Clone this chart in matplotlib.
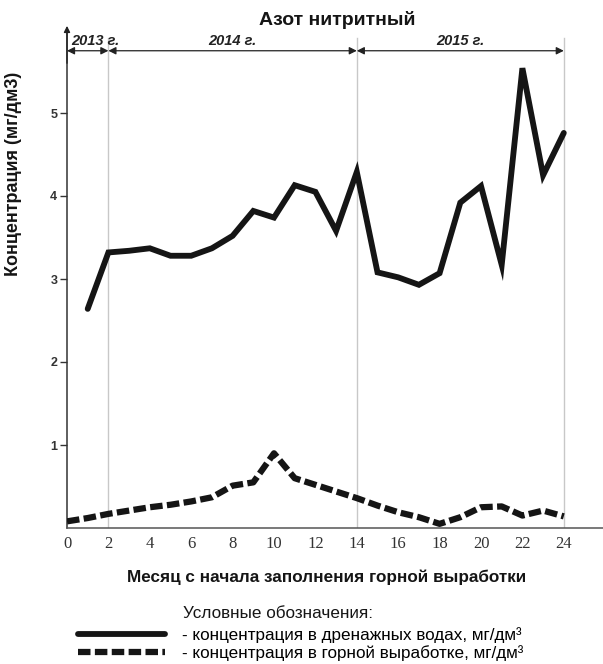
import numpy as np
import matplotlib.pyplot as plt

# месяцы и концентрации (мг/дм3)
months_drain = np.arange(1, 25)
drain = [2.64, 3.32, 3.34, 3.37, 3.28, 3.28, 3.37, 3.52, 3.82, 3.74,
         4.13, 4.05, 3.58, 4.29, 3.08, 3.02, 2.93, 3.07, 3.92, 4.12,
         3.17, 5.54, 4.25, 4.76]

months_mine = np.arange(0, 25)
mine = [0.08, 0.12, 0.17, 0.21, 0.25, 0.28, 0.32, 0.37, 0.51, 0.55,
        0.90, 0.60, 0.52, 0.44, 0.36, 0.27, 0.19, 0.13, 0.05, 0.13,
        0.25, 0.26, 0.15, 0.21, 0.14]

years = ['2013 г.', '2014 г.', '2015 г.']
year_bounds = [0, 2, 14, 24]

xticks = np.arange(0, 25, 2)
yticks = [1, 2, 3, 4, 5]

plt.rcParams['font.family'] = ['Liberation Sans', 'DejaVu Sans']

fig = plt.figure(figsize=(6.03, 6.64), dpi=100)
ax = fig.add_axes([67 / 603, 136 / 664, 536 / 603, 498 / 664])

ax.set_xlim(0, 536 / 20.7)
ax.set_ylim(0, 6.0)

# вертикальные линии границ годов
for b in year_bounds[1:]:
    ax.plot([b, b], [0, 5.9], color='#c8c8c8', lw=1, zorder=1)

ax.plot(months_drain, drain, color='#151515', lw=4.2, solid_joinstyle='miter',
        solid_capstyle='round', label='- концентрация в дренажных водах, мг/дм³', zorder=3)
ax.plot(months_mine, mine, color='#151515', lw=4.5, dashes=(2.0, 0.7),
        label='- концентрация в горной выработке, мг/дм³', zorder=3)

# стрелки с годами
for i, name in enumerate(years):
    a, b = year_bounds[i], year_bounds[i + 1]
    ax.annotate('', xy=(b, 5.75), xytext=(a, 5.75),
                arrowprops=dict(arrowstyle='<|-|>', color='#222222', lw=0.9,
                                mutation_scale=11, shrinkA=0, shrinkB=0))
    if i == 0:
        ax.text(a + 0.2, 5.87, name, ha='left', va='center', fontsize=10.5,
                fontweight='bold', style='italic', color='#222222')
    else:
        ax.text((a + b) / 2, 5.87, name, ha='center', va='center', fontsize=10.5,
                fontweight='bold', style='italic', color='#222222')

# стрелка оси Y
ax.annotate('', xy=(0, 6.05), xytext=(0, 5.6),
            arrowprops=dict(arrowstyle='-|>', color='#222222', lw=1,
                            mutation_scale=9, shrinkA=0, shrinkB=0),
            annotation_clip=False)

for s in ['top', 'right']:
    ax.spines[s].set_visible(False)
ax.spines['left'].set_color('#333333')
ax.spines['bottom'].set_color('#555555')
ax.spines['left'].set_linewidth(1.1)
ax.spines['bottom'].set_linewidth(1.1)

ax.set_xticks(xticks)
ax.set_xticklabels([str(t) for t in xticks], family='Liberation Serif', fontsize=12,
                   color='#333333')
ax.tick_params(axis='x', length=0, pad=6)
ax.set_yticks(yticks)
ax.set_yticklabels([str(t) for t in yticks], fontsize=9, fontweight='bold', color='#333333')
ax.tick_params(axis='y', length=5, width=1, color='#333333', pad=2)

ax.set_xlabel('Месяц с начала заполнения горной выработки', fontsize=12.3,
              fontweight='bold', color='#151515')
ax.xaxis.set_label_coords(0.485, -0.083)
ax.set_ylabel('Концентрация (мг/дм3)', fontsize=13, fontweight='bold', color='#151515')
ax.yaxis.set_label_coords(-0.084, 0.712)

fig.suptitle('Азот нитритный', x=337 / 603, y=1 - 20 / 664, va='center', fontsize=14,
             fontweight='bold', color='#151515')

fig.text(183 / 603, 1 - 614 / 664, 'Условные обозначения:', fontsize=12.3,
         va='center', ha='left', color='#151515')
ax.legend(loc='upper left', bbox_to_anchor=(78 / 603, 1 - 627 / 664),
          bbox_transform=fig.transFigure, frameon=False, fontsize=12.3,
          handlelength=5.1, handletextpad=1.0, labelspacing=0.15,
          borderpad=0, borderaxespad=0)

fig.savefig('out.png', dpi=100)
